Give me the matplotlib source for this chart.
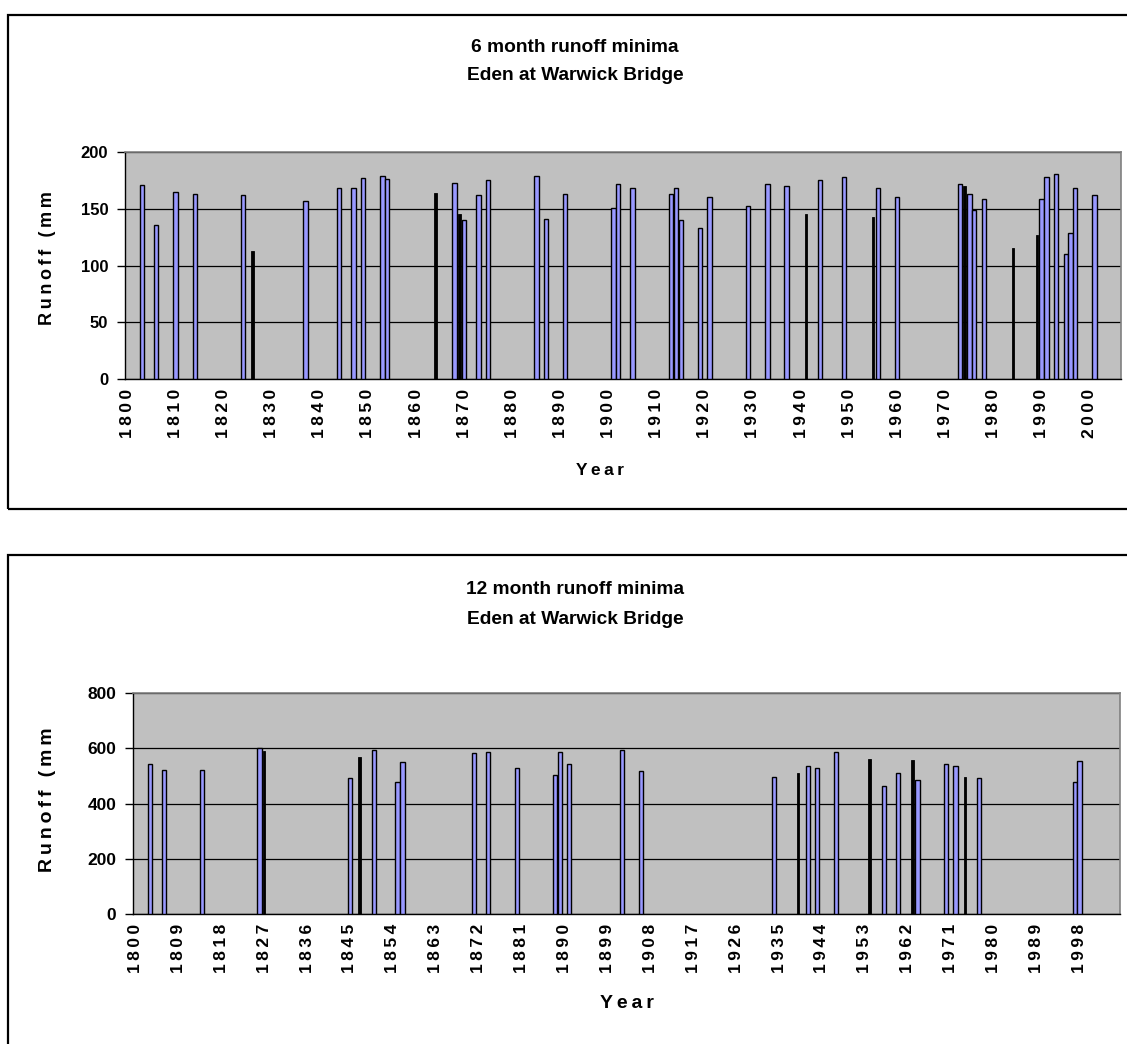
import matplotlib
matplotlib.use('Agg')
import matplotlib.pyplot as plt
from matplotlib.patches import Rectangle

# 6 month runoff minima (mm), Eden at Warwick Bridge
years_6 = [1803, 1806, 1810, 1814, 1824, 1826, 1837, 1844, 1847, 1849, 1853, 1854,
           1864, 1868, 1869, 1870, 1873, 1875, 1885, 1887, 1891, 1901, 1902, 1905,
           1913, 1914, 1915, 1919, 1921, 1929, 1933, 1937, 1941, 1944, 1949, 1955,
           1956, 1960, 1973, 1974, 1975, 1976, 1978, 1984, 1989, 1990, 1991, 1993,
           1995, 1996, 1997, 2001]
runoff_6 = [171, 136, 165, 163, 162, 113, 157, 168, 168, 177, 179, 176,
            164, 173, 145, 140, 162, 175, 179, 141, 163, 151, 172, 168,
            163, 168, 140, 133, 160, 152, 172, 170, 145, 175, 178, 143,
            168, 160, 172, 170, 163, 149, 159, 115, 127, 159, 178, 181,
            110, 129, 168, 162]

# 12 month runoff minima (mm)
years_12 = [1803, 1806, 1814, 1826, 1827, 1845, 1847, 1850, 1855, 1856, 1871, 1874,
            1880, 1888, 1889, 1891, 1902, 1906, 1934, 1939, 1941, 1943, 1947, 1954,
            1957, 1960, 1963, 1964, 1970, 1972, 1974, 1977, 1997, 1998]
runoff_12 = [543, 523, 523, 601, 590, 491, 569, 594, 478, 550, 581, 588,
             530, 504, 588, 542, 594, 516, 497, 510, 536, 530, 588, 562,
             464, 510, 556, 484, 542, 536, 497, 491, 478, 555]

# bars that the original renders as thin black slivers
narrow_6 = [1826, 1864, 1869, 1941, 1955, 1974, 1984, 1989]
narrow_12 = [1827, 1847, 1939, 1954, 1963, 1974]

W, H = 1127, 1044
plt.rcParams['font.family'] = ['Liberation Sans', 'DejaVu Sans']
plt.rcParams['font.weight'] = 'bold'

fig = plt.figure(figsize=(W / 100, H / 100), dpi=100)


def spaced(s):
    # the original text is slightly letter-spaced
    return '\u2009'.join(s)


def fx(x):
    return x / W


def fy(y):
    return 1 - y / H


def make_panel(box, frame, years, vals, narrow, ymax, ystep, xstep,
               title, tsize, ylab_y, ylab_size, year_x, year_y, year_size, tick_size, xl_size):
    left, top, right, bottom = box
    fig.patches.append(Rectangle((fx(frame[0]), fy(frame[3])), fx(frame[2] - frame[0]),
                                 (frame[3] - frame[1]) / H, transform=fig.transFigure,
                                 fill=False, edgecolor='black', linewidth=1.6))
    ax = fig.add_axes([fx(left), fy(bottom), fx(right - left), (bottom - top) / H])
    ax.set_facecolor('#C0C0C0')

    wide_x = [y for y in years if y not in narrow]
    wide_v = [v for y, v in zip(years, vals) if y not in narrow]
    thin_x = [y for y in years if y in narrow]
    thin_v = [v for y, v in zip(years, vals) if y in narrow]
    ax.bar(wide_x, wide_v, width=0.9, color='#9999FF', edgecolor='black', linewidth=1.0, zorder=3)
    ax.bar(thin_x, thin_v, width=0.5, color='black', edgecolor='black', linewidth=0.6, zorder=3)

    ax.set_xlim(1799.5, 2006.5)
    ax.set_ylim(0, ymax)
    ax.set_yticks(range(0, ymax + 1, ystep))
    ax.set_xticks(range(1800, 2001, xstep))
    ax.set_xticklabels([spaced(str(y)) for y in range(1800, 2001, xstep)],
                       rotation=90, fontsize=xl_size, fontweight='bold')
    ax.tick_params(axis='x', length=0, pad=7)
    ax.tick_params(axis='y', length=6, width=1, direction='out', pad=6, labelsize=tick_size)
    for t in ax.get_yticklabels():
        t.set_fontweight('bold')
    ax.yaxis.grid(True, color='black', linewidth=0.9, zorder=1)
    ax.set_axisbelow(True)
    for s in ['top', 'right']:
        ax.spines[s].set_color('#808080')
        ax.spines[s].set_linewidth(1.2)
    for s in ['left', 'bottom']:
        ax.spines[s].set_color('black')
        ax.spines[s].set_linewidth(1.0)

    cx = 575
    fig.text(fx(cx), fy(title[2]), title[0], ha='center', va='center', fontsize=tsize, fontweight='bold')
    fig.text(fx(cx), fy(title[3]), title[1], ha='center', va='center', fontsize=tsize, fontweight='bold')
    fig.text(fx(47), fy(ylab_y), spaced('Runoff (mm'), rotation=90, ha='center', va='center',
             fontsize=ylab_size, fontweight='bold')
    fig.text(fx(year_x), fy(year_y), spaced('Year'), ha='center', va='center',
             fontsize=year_size, fontweight='bold')
    return ax


make_panel((125, 152, 1121, 379), (8, 15, 1140, 509), years_6, runoff_6, narrow_6,
           200, 50, 10, ('6 month runoff minima', 'Eden at Warwick Bridge', 48, 76), 13.8,
           258, 13, 600, 471, 12.5, 12, 12.5)
make_panel((133, 693, 1120, 914), (8, 555, 1140, 1060), years_12, runoff_12, narrow_12,
           800, 200, 9, ('12 month runoff minima', 'Eden at Warwick Bridge', 590, 620), 13.8,
           800, 14, 627, 1003, 14, 12.5, 12.5)

fig.savefig('out.png', dpi=100)
